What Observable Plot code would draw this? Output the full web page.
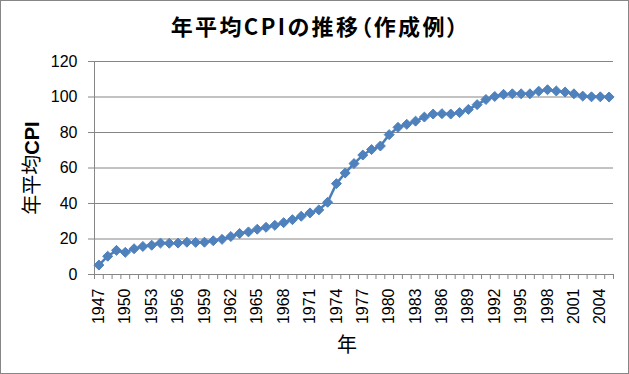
<!DOCTYPE html>
<html><head><meta charset="utf-8">
<script src="https://cdn.jsdelivr.net/npm/d3@7"></script>
<script src="https://cdn.jsdelivr.net/npm/@observablehq/plot@0.6"></script>
<style>
body{margin:0;background:#fff;}
#frame{width:627px;height:372px;border:1px solid #868686;position:relative;background:#fff;overflow:hidden}
#title{height:50px;line-height:48px;text-align:center;font-family:"Noto Sans CJK JP";font-weight:bold;font-size:22px;color:#000;font-feature-settings:"palt";letter-spacing:2.4px;padding-left:2px;box-sizing:border-box}
</style></head>
<body><div id="frame"><div id="title"></div></div>
<script>
const years = [1947,1948,1949,1950,1951,1952,1953,1954,1955,1956,1957,1958,1959,1960,1961,1962,1963,1964,1965,1966,1967,1968,1969,1970,1971,1972,1973,1974,1975,1976,1977,1978,1979,1980,1981,1982,1983,1984,1985,1986,1987,1988,1989,1990,1991,1992,1993,1994,1995,1996,1997,1998,1999,2000,2001,2002,2003,2004,2005];
const cpi = [5.3,10.3,13.6,12.5,14.5,15.8,16.5,17.7,17.6,17.7,18.2,18.1,18.2,19.0,19.8,21.4,23.1,24.0,25.5,26.6,27.7,29.2,30.9,32.8,34.7,36.4,40.7,51.2,57.2,62.5,67.3,70.4,72.4,78.8,82.9,84.6,86.4,88.7,90.4,90.6,90.4,91.2,93.0,95.7,98.6,100.3,101.5,101.8,101.8,101.8,103.3,104.1,103.4,102.8,101.8,100.5,100.1,100.1,100.0];
const xTickLabels = [1947,1950,1953,1956,1959,1962,1965,1968,1971,1974,1977,1980,1983,1986,1989,1992,1995,1998,2001,2004];
const yTicks = [0,20,40,60,80,100,120];
const titleText = "年平均CPIの推移（作成例）";
const xTitle = "年";
const yTitle = "年平均CPI";

const data = years.map((y,i)=>({year:y, cpi:cpi[i]}));
const x0 = years[0]-0.5, x1 = years[years.length-1]+0.5;
const boundaries = years.map(y=>y-0.5).concat([x1]);
const grid = "#868686";

const chart = Plot.plot({
  width:627, height:322, marginTop:10, marginLeft:93, marginRight:15, marginBottom:99,
  style:{fontFamily:"Liberation Sans", fontSize:"16px", color:"#000", background:"transparent"},
  x:{domain:[x0,x1]},
  y:{domain:[0,120]},
  marks:[
    Plot.gridY(yTicks,{stroke:grid, strokeOpacity:1}),
    Plot.axisY(yTicks,{tickSize:6, tickPadding:11, stroke:grid, fill:"#000", label:null}),
    Plot.axisX(boundaries,{tickSize:5, tickFormat:()=>"", stroke:grid, label:null}),
    Plot.axisX(xTickLabels,{tickSize:0, tickPadding:14, tickRotate:-90, tickFormat:d=>String(d), fill:"#000", label:null}),
    Plot.ruleX([x0],{stroke:grid}),
    Plot.ruleY([0],{stroke:grid}),
    Plot.line(data,{x:"year",y:"cpi",stroke:"#4A7EBB",strokeWidth:2.5}),
    Plot.dot(data,{x:"year",y:"cpi",symbol:"diamond2",r:4.5,fill:"#4F81BD",stroke:"#4F81BD",strokeWidth:1}),
    Plot.text([xTitle],{text:d=>d, frameAnchor:"bottom", textAnchor:"middle", lineAnchor:"middle", dx:-7, dy:71, fontSize:20, fontFamily:"Noto Sans CJK JP", fill:"#000"}),
    Plot.text([yTitle],{text:d=>d, frameAnchor:"left", textAnchor:"middle", lineAnchor:"middle", rotate:-90, dx:-62, fontSize:20, fontFamily:"Noto Sans CJK JP", fill:"#000"})
  ]
});
document.getElementById("title").textContent = titleText;
document.getElementById("frame").appendChild(chart);
d3.select(chart).selectAll("text").filter(function(){return this.textContent===yTitle;}).each(function(){
  const t = d3.select(this); t.text(null);
  t.append("tspan").text("年平均");
  t.append("tspan").attr("font-weight","bold").attr("font-family","Liberation Sans").text("CPI");
});
</script></body></html>
